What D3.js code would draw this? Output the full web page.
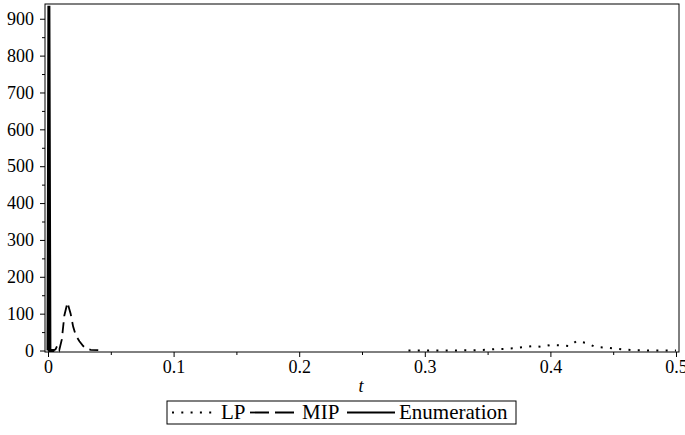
<!DOCTYPE html>
<html>
<head>
<meta charset="utf-8">
<script src="https://cdn.jsdelivr.net/npm/d3@7"></script>
<style>
  body { margin: 0; background: #fff; }
</style>
</head>
<body>
<div id="chart"></div>
<script>
// LP (dotted)
const lpT = [0.287, 0.30, 0.32, 0.34, 0.35, 0.356, 0.363, 0.370, 0.378, 0.386, 0.393, 0.400, 0.408, 0.415, 0.421, 0.429, 0.4355, 0.443, 0.450, 0.458, 0.465, 0.48, 0.50];
const lpV = [0, 0, 0, 1, 2, 4, 4.5, 6, 9, 12, 10, 15, 14, 12, 26, 20, 10, 8, 6, 3, 1, 0, 0];

// MIP (dashed)
const mipT = [0.000, 0.004, 0.006, 0.0075, 0.009, 0.011, 0.013, 0.0155, 0.018, 0.020, 0.022, 0.025, 0.028, 0.031, 0.034, 0.040];
const mipV = [0, 0, 3, 14, 2, 30, 95, 130, 100, 65, 42, 25, 12, 5, 2, 1];

// Enumeration (solid)
const enumT = [0.000, 0.0007, 0.0015, 0.005];
const enumV = [0, 935, 0, 0];

const xTicks = [0, 0.1, 0.2, 0.3, 0.4, 0.5];
const xMinor = [0.05, 0.15, 0.25, 0.35, 0.45];
const yTicks = [0, 100, 200, 300, 400, 500, 600, 700, 800, 900];
const yMinor = [50, 150, 250, 350, 450, 550, 650, 750, 850];

const width = 685, height = 435;
const mLeft = 45, mRight = 679, mTop = 4, mBottom = 352;
const serif = 'Liberation Serif';

const svg = d3.select('#chart').append('svg')
    .attr('width', width)
    .attr('height', height)
    .attr('font-family', serif);

const x = d3.scaleLinear().domain([-0.0024, 0.5024]).range([mLeft, mRight]);
const y = d3.scaleLinear().domain([-4, 940]).range([mBottom, mTop]);

// frame
svg.append('rect')
    .attr('x', mLeft).attr('y', mTop)
    .attr('width', mRight - mLeft).attr('height', mBottom - mTop)
    .attr('fill', 'none').attr('stroke', '#000').attr('stroke-width', 1);

function styleAxis(g) {
    g.attr('font-family', serif).attr('font-size', 18);
    g.select('.domain').remove();
    g.selectAll('line').attr('stroke', '#000');
    g.selectAll('text').attr('fill', '#000');
}

svg.append('g')
    .attr('transform', `translate(0,${mBottom})`)
    .call(d3.axisBottom(x).tickValues(xTicks).tickSize(5).tickPadding(3)
        .tickFormat(d => d === 0 ? '0' : d3.format('.1f')(d)))
    .call(styleAxis);
svg.append('g')
    .attr('transform', `translate(0,${mBottom})`)
    .call(d3.axisBottom(x).tickValues(xMinor).tickSize(3).tickFormat(''))
    .call(styleAxis);

svg.append('g')
    .attr('transform', `translate(${mLeft},0)`)
    .call(d3.axisLeft(y).tickValues(yTicks).tickSize(5).tickPadding(6))
    .call(styleAxis);
svg.append('g')
    .attr('transform', `translate(${mLeft},0)`)
    .call(d3.axisLeft(y).tickValues(yMinor).tickSize(3).tickFormat(''))
    .call(styleAxis);

const line = d3.line().x(d => x(d[0])).y(d => y(d[1]));

const series = [
    { name: 'LP', t: lpT, v: lpV, dash: '2,7.3', w: 2 },
    { name: 'MIP', t: mipT, v: mipV, dash: '11,6', w: 1.8 },
    { name: 'Enumeration', t: enumT, v: enumV, dash: null, w: 3 }
];

series.forEach(s => {
    svg.append('path')
        .datum(s.t.map((t, i) => [t, s.v[i]]))
        .attr('d', line)
        .attr('fill', 'none')
        .attr('stroke', '#000')
        .attr('stroke-width', s.w)
        .attr('stroke-dasharray', s.dash);
});

// x axis title
svg.append('text')
    .attr('x', 361).attr('y', 392)
    .attr('text-anchor', 'middle')
    .attr('font-size', 18)
    .attr('font-style', 'italic')
    .text('t');

// legend
const lg = svg.append('g');
lg.append('rect')
    .attr('x', 167).attr('y', 401)
    .attr('width', 349).attr('height', 23)
    .attr('fill', 'none').attr('stroke', '#000').attr('stroke-width', 1);

const legendItems = [
    { s: series[0], x0: 172, x1: 213, tx: 221 },
    { s: series[1], x0: 250, x1: 297, tx: 302 },
    { s: series[2], x0: 347, x1: 395, tx: 399 }
];
legendItems.forEach(it => {
    lg.append('line')
        .attr('x1', it.x0).attr('x2', it.x1)
        .attr('y1', 412.5).attr('y2', 412.5)
        .attr('stroke', '#000')
        .attr('stroke-width', it.s.name === 'Enumeration' ? 2 : it.s.w)
        .attr('stroke-dasharray', it.s.name === 'MIP' ? '19,6' : it.s.dash);
    lg.append('text')
        .attr('x', it.tx).attr('y', 419)
        .attr('font-size', 21)
        .text(it.s.name);
});
</script>
</body>
</html>
